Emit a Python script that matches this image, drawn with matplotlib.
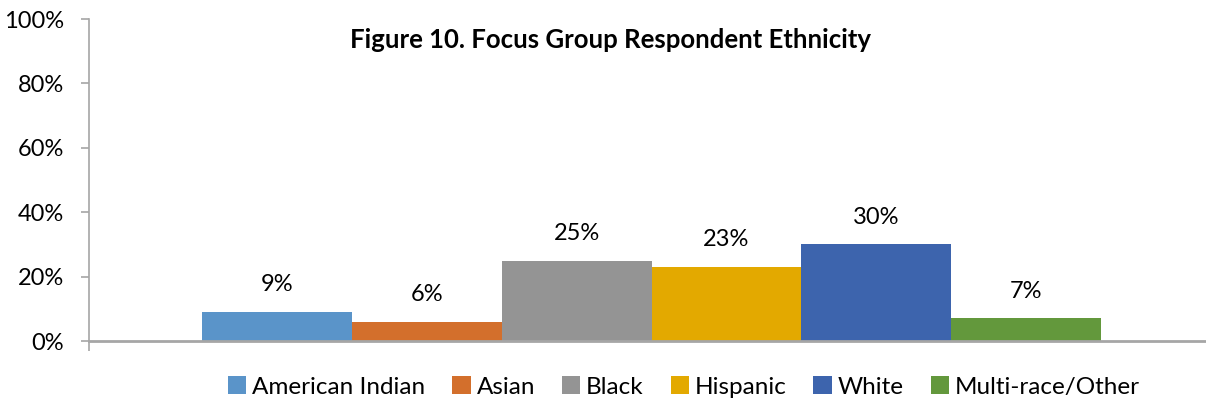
import matplotlib.pyplot as plt
from matplotlib.ticker import PercentFormatter

plt.rcParams['font.family'] = ['Lato', 'DejaVu Sans']

# Datos de la figura
grupos = ['American Indian', 'Asian', 'Black', 'Hispanic', 'White', 'Multi-race/Other']
valores = [9, 6, 25, 23, 30, 7]
colores = ['#5A94C9', '#D36F2C', '#949494', '#E3A900', '#3D64AD', '#63983C']

fig = plt.figure(figsize=(12.06, 4.03), dpi=100)
ax = fig.add_axes([89 / 1206, 62 / 403, 1125 / 1206, 322 / 403])

for i, (g, v, c) in enumerate(zip(grupos, valores, colores)):
    ax.bar(i, v, width=1.0, color=c, label=g)
    ax.text(i, v + 8.5, f'{v}%', ha='center', va='center', fontsize=17)

ax.set_xlim(-1.253, 6.253)
ax.set_ylim(0, 100)
ax.set_yticks([0, 20, 40, 60, 80, 100])
ax.yaxis.set_major_formatter(PercentFormatter(decimals=0))
ax.tick_params(axis='y', labelsize=17, length=6, color='#A6A6A6', width=1.2, pad=12)
ax.set_xticks([-1.253])
ax.set_xticklabels([''])
ax.tick_params(axis='x', length=7, color='#A6A6A6', width=1.2)

for s in ['top', 'right']:
    ax.spines[s].set_visible(False)
ax.spines['left'].set_color('#A6A6A6')
ax.spines['bottom'].set_color('#A6A6A6')
ax.spines['left'].set_linewidth(1.2)
ax.spines['bottom'].set_linewidth(2)

fig.text(611 / 1206, 1 - 40 / 403, 'Figure 10. Focus Group Respondent Ethnicity',
         ha='center', va='center', fontsize=18.5, fontweight='bold')

fig.legend(loc='center', bbox_to_anchor=(684 / 1206, 1 - 387 / 403), ncol=6,
           frameon=False, fontsize=17.5, handlelength=0.75, handleheight=0.75,
           handletextpad=0.25, columnspacing=1.1)

plt.savefig('out.png', dpi=100)
